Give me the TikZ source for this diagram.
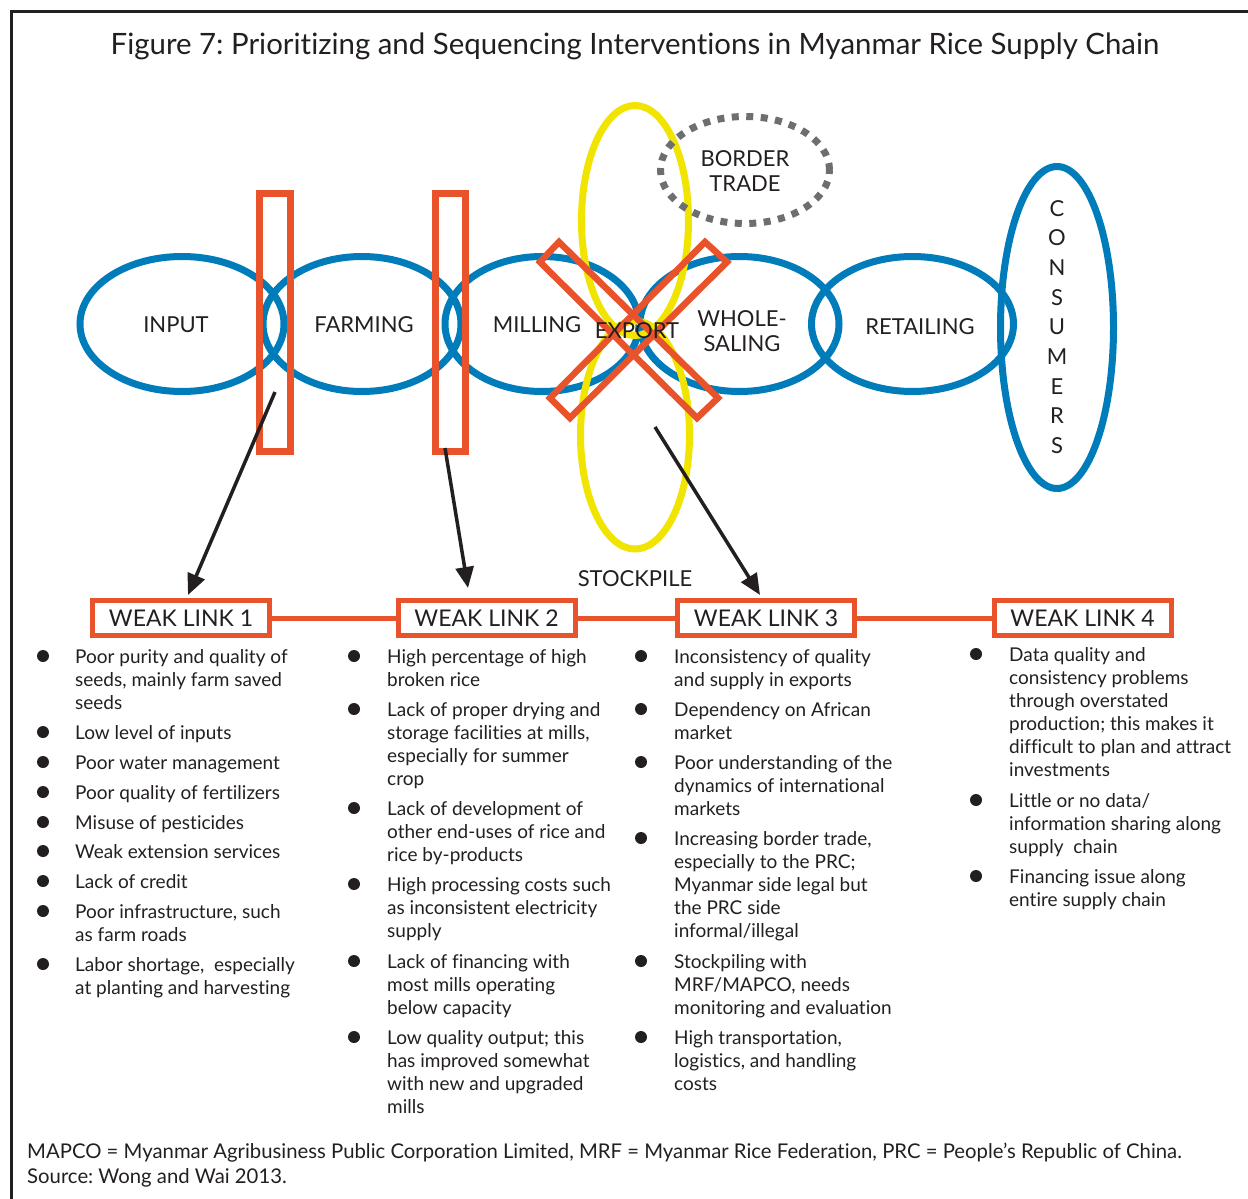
\documentclass[tikz,border=0pt]{standalone}
\usepackage{fontspec}
\setmainfont{Lato}[Ligatures={NoCommon}]
\usetikzlibrary{arrows.meta,shapes.geometric}
\definecolor{cblue}{RGB}{0,124,186}
\definecolor{cred}{RGB}{232,83,43}
\definecolor{cyel}{RGB}{240,228,0}
\definecolor{cgray}{RGB}{109,110,113}
\definecolor{ctext}{RGB}{35,31,32}
\newcommand{\itmlines}[1]{\begin{tabular}[t]{@{}l@{}}#1\end{tabular}}
\frenchspacing
\begin{document}
\begin{tikzpicture}[x=1pt,y=-1pt,
  chainell/.style={ellipse,draw=cblue,line width=7pt,inner sep=0pt},
  yelell/.style={ellipse,draw=cyel,line width=7pt,inner sep=0pt},
  dotell/.style={ellipse,draw=cgray,line width=7pt,inner sep=0pt,dash pattern=on 7pt off 7.5pt},
  redbar/.style={draw=cred,line width=7pt,miter limit=10},
  lbl/.style={text=ctext,font=\fontsize{22}{25}\selectfont,align=center,inner sep=0pt},
  wlbox/.style={draw=cred,line width=5pt,fill=white,minimum width=177pt,minimum height=35pt,inner sep=0pt,text=ctext,font=\fontsize{23}{26}\selectfont},
  itemtxt/.style={anchor=base west,inner sep=0pt,text=ctext,font=\fontsize{19}{23}\selectfont},
  arr/.style={draw=ctext,line width=3.5pt,-{Triangle[length=21pt,width=18pt]}},
  bul/.style={fill=ctext}
]
\useasboundingbox (0,0) rectangle (1248,1199);
% frame
\draw[line width=2.5pt,ctext] (11.5,1199) -- (11.5,11.5) -- (1248,11.5);
% title
\node[text=ctext,font=\fontsize{29.4}{32}\selectfont,anchor=base,inner sep=0pt] (title) at (635,55)
  {Figure 7: Prioritizing and Sequencing Interventions in Myanmar Rice Supply Chain};
% chain ellipses
\node[chainell,minimum width=204pt,minimum height=135pt] (input) at (182,324) {};
\node[chainell,minimum width=198pt,minimum height=135pt] (farming) at (362,324) {};
\node[chainell,minimum width=194pt,minimum height=135pt] (milling) at (542,324) {};
\node[chainell,minimum width=199pt,minimum height=135pt] (wholesaling) at (739.5,324) {};
\node[chainell,minimum width=202pt,minimum height=135pt] (retailing) at (912.5,324) {};
\node[chainell,minimum width=113pt,minimum height=322pt] (consumers) at (1057,327.5) {};
% yellow export/stockpile ellipses
\node[yelell,minimum width=107pt,minimum height=230pt] (exportell) at (635,220.5) {};
\node[yelell,minimum width=109pt,minimum height=228pt] (stockell) at (635,435) {};
% border trade
\node[dotell,minimum width=169pt,minimum height=107pt] (border) at (745,170) {};
% vertical weak-link bars
\draw[redbar] (259.5,193.5) rectangle (290.5,451.5);
\draw[redbar] (435.5,193.5) rectangle (465.5,451.5);
% red X
\draw[redbar,line width=6.5pt] (559,242) -- (718,398) -- (697,418) -- (540,262) -- cycle;
\draw[redbar,line width=6.5pt] (705,242) -- (727,262) -- (570,418) -- (550,398) -- cycle;
% labels
\node[lbl] (tinput) at (176,325) {INPUT};
\node[lbl] (tfarming) at (364,325) {FARMING};
\node[lbl] (tmilling) at (537,325) {MILLING};
\node[lbl] (texport) at (637,331) {EXPORT};
\node[lbl] (twhole) at (742,331) {WHOLE-\\SALING};
\node[lbl] (tretail) at (920,327) {RETAILING};
\node[lbl] (tborder) at (745,171) {BORDER\\TRADE};
\node[lbl,font=\fontsize{22}{29.7}\selectfont] (tcons) at (1057,327) {C\\O\\N\\S\\U\\M\\E\\R\\S};
\node[lbl] (tstock) at (635,579) {STOCKPILE};
% weak link boxes
\node[wlbox] (wl1) at (181,618) {WEAK LINK 1};
\node[wlbox] (wl2) at (486.5,618) {WEAK LINK 2};
\node[wlbox] (wl3) at (766,618) {WEAK LINK 3};
\node[wlbox] (wl4) at (1082.5,618) {WEAK LINK 4};
\draw[cred,line width=5pt] (wl1.east) -- (wl2.west);
\draw[cred,line width=5pt] (wl2.east) -- (wl3.west);
\draw[cred,line width=5pt] (wl3.east) -- (wl4.west);
% arrows
\coordinate (a1s) at (275,392); \coordinate (a1e) at (188,595);
\coordinate (a2s) at (445,448); \coordinate (a2e) at (468,588);
\coordinate (a3s) at (655,427); \coordinate (a3e) at (760,595);
\draw[arr] (a1s) -- (a1e);
\draw[arr] (a2s) -- (a2e);
\draw[arr] (a3s) -- (a3e);
% column 1
\foreach \y in {663,739,769,799,829,858,888,918,971} \fill[bul] (43,\y-7) circle (6pt);
\node[itemtxt] (c1i1) at (75,663) {\itmlines{Poor purity and quality of\\seeds, mainly farm saved\\seeds}};
\node[itemtxt] (c1i2) at (75,739) {Low level of inputs};
\node[itemtxt] (c1i3) at (75,769) {Poor water management};
\node[itemtxt] (c1i4) at (75,799) {Poor quality of fertilizers};
\node[itemtxt] (c1i5) at (75,829) {Misuse of pesticides};
\node[itemtxt] (c1i6) at (75,858) {Weak extension services};
\node[itemtxt] (c1i7) at (75,888) {Lack of credit};
\node[itemtxt] (c1i8) at (75,918) {\itmlines{Poor infrastructure, such\\as farm roads}};
\node[itemtxt] (c1i9) at (75,971) {\itmlines{Labor shortage,\ \ especially\\at planting and harvesting}};
% column 2
\foreach \y in {663,716,815,891,968,1044} \fill[bul] (354,\y-7) circle (6pt);
\node[itemtxt] (c2i1) at (387,663) {\itmlines{High percentage of high\\broken rice}};
\node[itemtxt] (c2i2) at (387,716) {\itmlines{Lack of proper drying and\\storage facilities at mills,\\especially for summer\\crop}};
\node[itemtxt] (c2i3) at (387,815) {\itmlines{Lack of development of\\other end-uses of rice and\\rice by-products}};
\node[itemtxt] (c2i4) at (387,891) {\itmlines{High processing costs such\\as inconsistent electricity\\supply}};
\node[itemtxt] (c2i5) at (387,968) {\itmlines{Lack of financing with\\most mills operating\\below capacity}};
\node[itemtxt] (c2i6) at (387,1044) {\itmlines{Low quality output; this\\has improved somewhat\\with new and upgraded\\mills}};
% column 3
\foreach \y in {663,716,769,845,968,1044} \fill[bul] (641,\y-7) circle (6pt);
\node[itemtxt] (c3i1) at (674,663) {\itmlines{Inconsistency of quality\\and supply in exports}};
\node[itemtxt] (c3i2) at (674,716) {\itmlines{Dependency on African\\market}};
\node[itemtxt] (c3i3) at (674,769) {\itmlines{Poor understanding of the\\dynamics of international\\markets}};
\node[itemtxt] (c3i4) at (674,845) {\itmlines{Increasing border trade,\\especially to the PRC;\\Myanmar side legal but\\the PRC side\\informal/illegal}};
\node[itemtxt] (c3i5) at (674,968) {\itmlines{Stockpiling with\\MRF/MAPCO, needs\\monitoring and evaluation}};
\node[itemtxt] (c3i6) at (674,1044) {\itmlines{High transportation,\\logistics, and handling\\costs}};
% column 4
\foreach \y in {661,807,883} \fill[bul] (976,\y-7) circle (6pt);
\node[itemtxt] (c4i1) at (1009,661) {\itmlines{Data quality and\\consistency problems\\through overstated\\production; this makes it\\difficult to plan and attract\\investments}};
\node[itemtxt] (c4i2) at (1009,807) {\itmlines{Little or no data/\\information sharing along\\supply\ \ chain}};
\node[itemtxt] (c4i3) at (1009,883) {\itmlines{Financing issue along\\entire supply chain}};
% footnote
\node[itemtxt,font=\fontsize{20.3}{25}\selectfont] (foot) at (27,1158) {\itmlines{MAPCO = Myanmar Agribusiness Public Corporation Limited, MRF = Myanmar Rice Federation, PRC = People’s Republic of China.\\Source: Wong and Wai 2013.}};
\end{tikzpicture}
\end{document}
